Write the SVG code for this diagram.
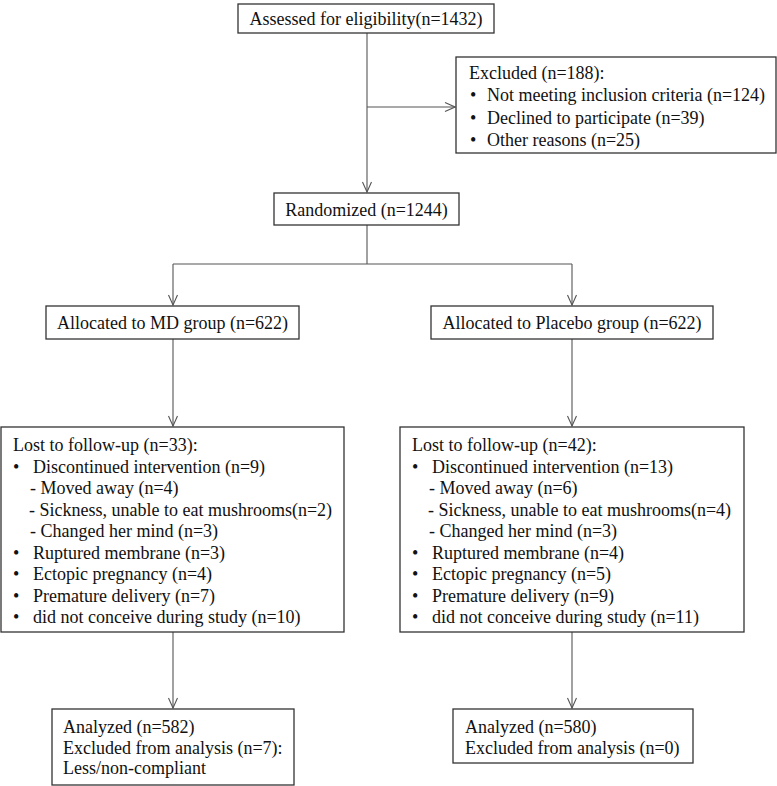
<svg xmlns="http://www.w3.org/2000/svg" width="777" height="786" viewBox="0 0 777 786">
<style>
.box{fill:#fff;stroke:#333;stroke-width:1.3}
.t{font-family:"Liberation Serif","Times New Roman",serif;font-size:18px;fill:#111}
.c{fill:none;stroke:#555;stroke-width:1.1}
</style>
<defs>
<marker id="arr" viewBox="-11 -6 12 12" markerWidth="12" markerHeight="12" refX="0" refY="0" orient="auto" markerUnits="userSpaceOnUse">
<path d="M-10,-4.5 L0,0 L-10,4.5" fill="none" stroke="#555" stroke-width="1.1"/>
</marker>
</defs>
<rect width="777" height="786" fill="#fff"/>
<g id="connectors">
<path class="c" d="M367,33 V192" marker-end="url(#arr)"/>
<path class="c" d="M367,107 H455" marker-end="url(#arr)"/>
<path class="c" d="M367,225 V264 M173,264 H572"/>
<path class="c" d="M173,264 V305" marker-end="url(#arr)"/>
<path class="c" d="M572,264 V305" marker-end="url(#arr)"/>
<path class="c" d="M173,339 V426" marker-end="url(#arr)"/>
<path class="c" d="M572,339 V426" marker-end="url(#arr)"/>
<path class="c" d="M173,632 V708" marker-end="url(#arr)"/>
<path class="c" d="M572,632 V708" marker-end="url(#arr)"/>
</g>
<g id="assessed">
<rect class="box" x="238" y="4" width="256" height="29"/>
<text class="t" x="366" y="25" text-anchor="middle">Assessed for eligibility(n=1432)</text>
</g>
<g id="excluded">
<rect class="box" x="456" y="57" width="320" height="96"/>
<text class="t" x="469" y="79">Excluded (n=188):</text>
<text class="t" x="470" y="101">•</text><text class="t" x="487" y="101">Not meeting inclusion criteria (n=124)</text>
<text class="t" x="470" y="124">•</text><text class="t" x="487" y="124">Declined to participate (n=39)</text>
<text class="t" x="470" y="146">•</text><text class="t" x="487" y="146">Other reasons (n=25)</text>
</g>
<g id="randomized">
<rect class="box" x="274" y="193" width="185" height="32"/>
<text class="t" x="366.5" y="216" text-anchor="middle">Randomized (n=1244)</text>
</g>
<g id="alloc-md">
<rect class="box" x="46" y="306" width="253" height="33"/>
<text class="t" x="172.5" y="329" text-anchor="middle">Allocated to MD group (n=622)</text>
</g>
<g id="alloc-placebo">
<rect class="box" x="431" y="306" width="282" height="33"/>
<text class="t" x="572" y="329" text-anchor="middle">Allocated to Placebo group (n=622)</text>
</g>
<g id="lost-md">
<rect class="box" x="1" y="427" width="343" height="205"/>
<text class="t" x="13" y="451">Lost to follow-up (n=33):</text>
<text class="t" x="13" y="472.5">•</text><text class="t" x="33" y="472.5">Discontinued intervention (n=9)</text>
<text class="t" x="30" y="494">- Moved away (n=4)</text>
<text class="t" x="29" y="515.5">- Sickness, unable to eat mushrooms(n=2)</text>
<text class="t" x="30" y="537">- Changed her mind (n=3)</text>
<text class="t" x="13" y="558.5">•</text><text class="t" x="33" y="558.5">Ruptured membrane (n=3)</text>
<text class="t" x="13" y="580">•</text><text class="t" x="33" y="580">Ectopic pregnancy (n=4)</text>
<text class="t" x="13" y="601.5">•</text><text class="t" x="33" y="601.5">Premature delivery (n=7)</text>
<text class="t" x="13" y="623">•</text><text class="t" x="33" y="623">did not conceive during study (n=10)</text>
</g>
<g id="lost-placebo">
<rect class="box" x="400" y="427" width="344" height="205"/>
<text class="t" x="412" y="451">Lost to follow-up (n=42):</text>
<text class="t" x="412" y="472.5">•</text><text class="t" x="432" y="472.5">Discontinued intervention (n=13)</text>
<text class="t" x="429" y="494">- Moved away (n=6)</text>
<text class="t" x="428" y="515.5">- Sickness, unable to eat mushrooms(n=4)</text>
<text class="t" x="429" y="537">- Changed her mind (n=3)</text>
<text class="t" x="412" y="558.5">•</text><text class="t" x="432" y="558.5">Ruptured membrane (n=4)</text>
<text class="t" x="412" y="580">•</text><text class="t" x="432" y="580">Ectopic pregnancy (n=5)</text>
<text class="t" x="412" y="601.5">•</text><text class="t" x="432" y="601.5">Premature delivery (n=9)</text>
<text class="t" x="412" y="623">•</text><text class="t" x="432" y="623">did not conceive during study (n=11)</text>
</g>
<g id="analyzed-md">
<rect class="box" x="52" y="709" width="242" height="76"/>
<text class="t" x="63" y="733">Analyzed (n=582)</text>
<text class="t" x="63" y="753.5">Excluded from analysis (n=7):</text>
<text class="t" x="63" y="774">Less/non-compliant</text>
</g>
<g id="analyzed-placebo">
<rect class="box" x="453" y="709" width="240" height="54"/>
<text class="t" x="465" y="733">Analyzed (n=580)</text>
<text class="t" x="465" y="753.5">Excluded from analysis (n=0)</text>
</g>
</svg>
